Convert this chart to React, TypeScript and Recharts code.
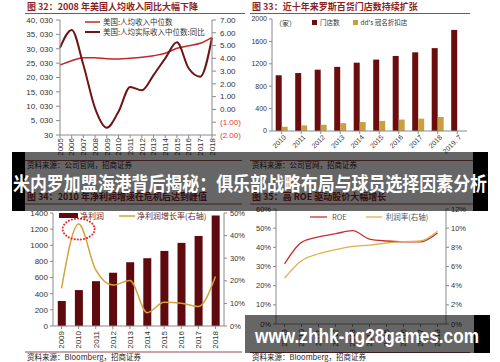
import React from "react";
import {
  LineChart,
  Line,
  BarChart,
  Bar,
  ComposedChart,
  XAxis,
  YAxis,
  Legend,
  ReferenceDot,
} from "recharts";

// 图 32: US median income
const incomeYears = ["2005", "2006", "2007", "2008", "2009", "2010", "2011", "2012", "2013", "2014", "2015", "2016", "2017", "2018"];
const incomeMedian = [24380, 25870, 26920, 26920, 26570, 26460, 26710, 27060, 27610, 28450, 30180, 31090, 31920, 34010];
const realIncomeYoY = [4.83, 6.22, 3.48, 0.09, -1.43, -0.18, 1.76, 1.5, 2.69, 4.0, 5.25, 3.22, 2.56, 5.61];
const incomeTicks = [30, 5030, 10030, 15030, 20030, 25030, 30030, 35030, 40030];
const yoyTicks = [-2, -1, 0, 1, 2, 3, 4, 5, 6, 7];

// 图 33: Ross store count
const rossYears = ["2010", "2011", "2012", "2013", "2014", "2015", "2016", "2017", "2018", "2019. 7"];
const rossStores = [995, 1035, 1095, 1145, 1220, 1275, 1340, 1405, 1480, 1805];
const ddsStores = [75, 100, 110, 140, 160, 180, 205, 220, 250, null];
const storeTicks = [0, 400, 800, 1200, 1600, 2000];

// 图 34: net profit
const profitYears = ["2009", "2010", "2011", "2012", "2013", "2014", "2015", "2016", "2017", "2018"];
const netProfit = [310, 445, 555, 660, 790, 840, 930, 1030, 1115, 1370];
const profitGrowth = [16.7, 45.1, 24.8, 18.1, 20.1, 5.9, 10.5, 10.1, 8.6, 21.9];
const profitTicks = [0, 200, 400, 600, 800, 1000, 1200, 1400];
const growthTicks = [0, 10, 20, 30, 40, 50];

// 图 35: ROE and margin
const roeYears = ["2009", "2010", "2011", "2012", "2013", "2014", "2015", "2016", "2017", "2018"];
const roe = [31.3, 42.6, 45.4, 47.1, 48.7, 44.3, 43.3, 42.9, 42.9, 47.5];
const profitMargin = [4.78, 6.6, 7.33, 7.75, 8.1, 8.24, 8.45, 8.6, 8.66, 9.67];
const roeTicks = [0, 10, 20, 30, 40, 50, 60];
const marginTicks = [0, 2, 4, 6, 8, 10, 12];

const incomeData = incomeYears.map((year, i) => ({ year, median: incomeMedian[i], yoy: realIncomeYoY[i] }));
const rossData = rossYears.map((year, i) => ({ year, stores: rossStores[i], dds: ddsStores[i] }));
const profitData = profitYears.map((year, i) => ({ year, profit: netProfit[i], growth: profitGrowth[i] }));
const roeData = roeYears.map((year, i) => ({ year, roe: roe[i], margin: profitMargin[i] }));

const NUM_FONT = "'Liberation Sans', Arial, sans-serif";
const CJK_FONT = "'Noto Sans CJK SC', 'Noto Sans', sans-serif";
const TITLE_RED = "#8b1e1e";
const AXIS = "#8a8a8a";
const TEXT = "#333";

type TickProps = { x?: number; y?: number; payload?: { value: string | number } };

function UpTick({ x = 0, y = 0, payload }: TickProps) {
  return (
    <text
      x={x}
      y={y}
      transform={`rotate(-90 ${x} ${y})`}
      textAnchor="end"
      dy="0.35em"
      fontSize={8}
      fill={TEXT}
      fontFamily={NUM_FONT}
    >
      {payload?.value}
    </text>
  );
}

function SlantTick({ x = 0, y = 0, payload }: TickProps) {
  const tx = x + 3;
  const ty = y + 1;
  return (
    <text
      x={tx}
      y={ty}
      transform={`rotate(-45 ${tx} ${ty})`}
      textAnchor="end"
      dy="0.35em"
      fontSize={7}
      fill={TEXT}
      fontFamily={NUM_FONT}
    >
      {payload?.value}
    </text>
  );
}

function YoyTick({ x = 0, y = 0, payload }: TickProps) {
  const v = Number(payload?.value ?? 0);
  const neg = v < 0;
  return (
    <text x={x} y={y} dy="0.35em" textAnchor="start" fontSize={8} fill={neg ? "#e2382f" : TEXT} fontFamily={NUM_FONT}>
      {neg ? `(${Math.abs(v).toFixed(2)})` : v.toFixed(2)}
    </text>
  );
}

const lineSwatch = (color: string, width: number, w = 15) => (
  <svg width={w} height={4} style={{ display: "block" }}>
    <line x1={0} y1={2} x2={w} y2={2} stroke={color} strokeWidth={width} />
  </svg>
);

const boxSwatch = (color: string, w: number, h: number) => (
  <span style={{ display: "inline-block", width: w, height: h, background: color }} />
);

const row: React.CSSProperties = { display: "flex", alignItems: "center", whiteSpace: "nowrap" };

function IncomeLegend() {
  return (
    <div style={{ fontFamily: CJK_FONT, fontSize: 7.5, color: TEXT, lineHeight: "10px" }}>
      <div style={row}>
        {lineSwatch("#c1272d", 1.5)}
        <span style={{ marginLeft: 3 }}>美国:人均收入中位数</span>
      </div>
      <div style={row}>
        {lineSwatch("#6e1414", 2)}
        <span style={{ marginLeft: 3 }}>美国:人均实际收入中位数:同比</span>
      </div>
    </div>
  );
}

function RossLegend() {
  return (
    <div style={{ ...row, fontFamily: CJK_FONT, fontSize: 6.5, color: TEXT }}>
      {boxSwatch("#6b0d0d", 5, 5)}
      <span style={{ marginLeft: 3, marginRight: 13 }}>门店数</span>
      {boxSwatch("#c9a040", 5, 5)}
      <span style={{ marginLeft: 3 }}>dd's 冠名折扣店</span>
    </div>
  );
}

function ProfitLegend() {
  return (
    <div style={{ ...row, fontFamily: CJK_FONT, fontSize: 8, color: "#6b2a2a" }}>
      {boxSwatch("#5e0a0e", 19, 5)}
      <span style={{ marginLeft: 2, marginRight: 15 }}>净利润</span>
      {lineSwatch("#d1a23a", 1.5, 16)}
      <span style={{ marginLeft: 2 }}>净利润增长率(右轴)</span>
    </div>
  );
}

function RoeLegend() {
  return (
    <div style={{ ...row, fontFamily: CJK_FONT, fontSize: 7.5, color: "#555" }}>
      {lineSwatch("#c8302f", 1.3, 17)}
      <span style={{ marginLeft: 5, marginRight: 19 }}>ROE</span>
      {lineSwatch("#e0b04a", 1.3, 16)}
      <span style={{ marginLeft: 4 }}>利润率(右轴)</span>
    </div>
  );
}

const tickStyle = { fontSize: 8, fill: TEXT, fontFamily: NUM_FONT };
const fmtThousands = (v: number) => v.toLocaleString("en-US").replace(",", ", ");
const pct = (v: number) => `${v}%`;

function Panels() {
  const titleProps = { fontSize: 9, fontWeight: 700, fill: TITLE_RED, fontFamily: CJK_FONT };
  const srcProps = { fontSize: 7.5, fill: "#222", fontFamily: CJK_FONT };
  return (
    <svg width={500} height={362} style={{ position: "absolute", left: 0, top: 0 }}>
      <text x={27} y={10} {...titleProps}>图 32：2008 年美国人均收入同比大幅下降</text>
      <line x1={25} y1={13.5} x2={245} y2={13.5} stroke="#9a4a4a" strokeWidth={1} />
      <text x={252} y={10} {...titleProps}>图 33：近十年来罗斯百货门店数持续扩张</text>
      <line x1={250} y1={13.5} x2={470} y2={13.5} stroke="#9a4a4a" strokeWidth={1} />
      <text x={275} y={26} fontSize={7} fill={TEXT} fontFamily={CJK_FONT}>（家）</text>
      <line x1={25} y1={160.5} x2={242} y2={160.5} stroke="#9a4a4a" strokeWidth={1} />
      <text x={27} y={168} {...srcProps}>资料来源：公司官网，招商证券</text>
      <line x1={250} y1={160.5} x2={480} y2={160.5} stroke="#9a4a4a" strokeWidth={1} />
      <text x={252} y={168} {...srcProps}>资料来源：公司官网，招商证券</text>

      <text x={27} y={200} {...titleProps}>图 34：2010 年净利润增速在危机后达到峰值</text>
      <line x1={25} y1={204} x2={242} y2={204} stroke="#9a4a4a" strokeWidth={1} />
      <text x={252} y={200} {...titleProps}>图 35：高 ROE 驱动股价大幅增长</text>
      <line x1={250} y1={204} x2={480} y2={204} stroke="#9a4a4a" strokeWidth={1} />
      <line x1={25} y1={352} x2={242} y2={352} stroke="#9a4a4a" strokeWidth={1} />
      <text x={27} y={360} {...srcProps}>资料来源：Bloomberg，招商证券</text>
      <line x1={250} y1={352.5} x2={470} y2={352.5} stroke="#9a4a4a" strokeWidth={1} />
      <text x={252} y={360} {...srcProps}>资料来源：Bloomberg，招商证券</text>
    </svg>
  );
}

function Overlay() {
  return (
    <svg width={500} height={362} style={{ position: "absolute", left: 0, top: 0, pointerEvents: "none" }}>
      <rect x={12} y={152} width={476} height={59} fill="rgba(0,0,0,0.6)" />
      <rect x={12} y={152} width={13} height={59} fill="#000" />
      <rect x={473} y={152} width={15} height={59} fill="#000" />
      <text
        x={13}
        y={191}
        fontSize={19}
        fontWeight={700}
        fill="#fff"
        fontFamily={CJK_FONT}
        textLength={474}
        lengthAdjust="spacingAndGlyphs"
      >
        米内罗加盟海港背后揭秘：俱乐部战略布局与球员选择因素分析
      </text>
      <rect x={245} y={315} width={229} height={38} fill="rgba(0,0,0,0.6)" />
      <rect x={474} y={315} width={16} height={38} fill="#000" />
      <text
        x={255}
        y={343}
        fontSize={20}
        fontWeight={700}
        fill="#fff"
        fontFamily={NUM_FONT}
        textLength={224}
        lengthAdjust="spacingAndGlyphs"
      >
        www.zhhk-ng28games.com
      </text>
    </svg>
  );
}

function IncomeChart() {
  return (
    <LineChart width={250} height={165} data={incomeData} margin={{ top: 20, right: 0, bottom: 5, left: 0 }}>
      <XAxis
        dataKey="year"
        height={25}
        interval={0}
        tick={<UpTick />}
        tickSize={3}
        tickMargin={0}
        stroke={AXIS}
      />
      <YAxis
        yAxisId="left"
        width={60}
        domain={[30, 40030]}
        ticks={incomeTicks}
        interval={0}
        tickFormatter={fmtThousands}
        tick={tickStyle}
        tickSize={4}
        tickMargin={3}
        stroke={AXIS}
      />
      <YAxis
        yAxisId="right"
        orientation="right"
        width={38}
        domain={[-2, 7]}
        ticks={yoyTicks}
        interval={0}
        tick={<YoyTick />}
        tickSize={4}
        tickMargin={4}
        stroke={AXIS}
      />
      <Legend
        layout="horizontal"
        verticalAlign="middle"
        align="center"
        content={<IncomeLegend />}
        wrapperStyle={{ top: 17, left: 85, width: "auto" }}
      />
      <Line yAxisId="left" type="monotone" dataKey="median" stroke="#c1272d" strokeWidth={1.5} dot={false} isAnimationActive={false} />
      <Line yAxisId="right" type="monotone" dataKey="yoy" stroke="#6e1414" strokeWidth={2} dot={false} isAnimationActive={false} />
    </LineChart>
  );
}

function RossChart() {
  return (
    <BarChart
      width={250}
      height={165}
      data={rossData}
      margin={{ top: 19, right: 33, bottom: 4, left: 0 }}
      barCategoryGap="19%"
      barGap={0}
    >
      <XAxis dataKey="year" height={30} interval={0} tick={<SlantTick />} tickSize={3} tickMargin={1} stroke={AXIS} />
      <YAxis
        width={22}
        domain={[0, 2000]}
        ticks={storeTicks}
        interval={0}
        tick={{ ...tickStyle, fontSize: 7 }}
        tickSize={3}
        tickMargin={2}
        stroke={AXIS}
      />
      <Legend
        layout="horizontal"
        verticalAlign="middle"
        align="center"
        content={<RossLegend />}
        wrapperStyle={{ top: 17, left: 62, width: "auto" }}
      />
      <Bar dataKey="stores" fill="#6b0d0d" isAnimationActive={false} />
      <Bar dataKey="dds" fill="#c9a040" isAnimationActive={false} />
    </BarChart>
  );
}

function ProfitChart() {
  return (
    <ComposedChart
      width={250}
      height={182}
      data={profitData}
      margin={{ top: 33, right: 0, bottom: 6, left: 0 }}
      barCategoryGap="28%"
    >
      <XAxis dataKey="year" height={30} interval={0} tick={<UpTick />} tickSize={3} tickMargin={2} stroke={AXIS} />
      <YAxis
        yAxisId="left"
        width={53}
        domain={[0, 1400]}
        ticks={profitTicks}
        interval={0}
        tick={tickStyle}
        tickSize={3}
        tickMargin={2}
        stroke={AXIS}
      />
      <YAxis
        yAxisId="right"
        orientation="right"
        width={26}
        domain={[0, 50]}
        ticks={growthTicks}
        interval={0}
        tickFormatter={pct}
        tick={{ ...tickStyle, fontSize: 7.5 }}
        tickSize={3}
        tickMargin={3}
        stroke={AXIS}
      />
      <Legend
        layout="horizontal"
        verticalAlign="middle"
        align="center"
        content={<ProfitLegend />}
        wrapperStyle={{ top: 30, left: 59, width: "auto" }}
      />
      <Bar yAxisId="left" dataKey="profit" fill="#5e0a0e" isAnimationActive={false} />
      <Line yAxisId="right" type="monotone" dataKey="growth" stroke="#d1a23a" strokeWidth={1.5} dot={false} isAnimationActive={false} />
      <ReferenceDot
        yAxisId="right"
        x="2010"
        y={45.1}
        r={0}
        ifOverflow="visible"
        shape={(p: { cx?: number; cy?: number }) => (
          <ellipse
            cx={p.cx}
            cy={(p.cy ?? 0) + 5}
            rx={16}
            ry={10.5}
            fill="none"
            stroke="#e8262b"
            strokeWidth={2}
            strokeDasharray="0.1 3"
            strokeLinecap="round"
          />
        )}
      />
    </ComposedChart>
  );
}

function RoeChart() {
  return (
    <LineChart width={250} height={182} data={roeData} margin={{ top: 29, right: 34, bottom: 8, left: 0 }}>
      <XAxis
        dataKey="year"
        height={30}
        interval={0}
        padding={{ left: 8.5, right: 8.5 }}
        tick={<UpTick />}
        tickSize={3}
        tickMargin={2}
        stroke={AXIS}
      />
      <YAxis
        yAxisId="left"
        width={26}
        domain={[0, 60]}
        ticks={roeTicks}
        interval={0}
        tickFormatter={pct}
        tick={{ ...tickStyle, fontSize: 7.5 }}
        tickSize={3}
        tickMargin={2}
        stroke={AXIS}
      />
      <YAxis
        yAxisId="right"
        orientation="right"
        width={20}
        domain={[0, 12]}
        ticks={marginTicks}
        interval={0}
        tickFormatter={pct}
        tick={{ ...tickStyle, fontSize: 7.5 }}
        tickSize={3}
        tickMargin={2}
        stroke={AXIS}
      />
      <Legend
        layout="horizontal"
        verticalAlign="middle"
        align="center"
        content={<RoeLegend />}
        wrapperStyle={{ top: 31, left: 60, width: "auto" }}
      />
      <Line yAxisId="left" type="monotone" dataKey="roe" stroke="#c8302f" strokeWidth={1.3} dot={false} isAnimationActive={false} />
      <Line yAxisId="right" type="monotone" dataKey="margin" stroke="#e0b04a" strokeWidth={1.3} dot={false} isAnimationActive={false} />
    </LineChart>
  );
}

export default function App() {
  return (
    <div style={{ position: "absolute", left: 0, top: 0, width: 500, height: 362, background: "#fff", overflow: "hidden" }}>
      <Panels />
      <div style={{ position: "absolute", left: 0, top: 0 }}>
        <IncomeChart />
      </div>
      <div style={{ position: "absolute", left: 250, top: 0 }}>
        <RossChart />
      </div>
      <div style={{ position: "absolute", left: 0, top: 180 }}>
        <ProfitChart />
      </div>
      <div style={{ position: "absolute", left: 250, top: 180 }}>
        <RoeChart />
      </div>
      <Overlay />
    </div>
  );
}
